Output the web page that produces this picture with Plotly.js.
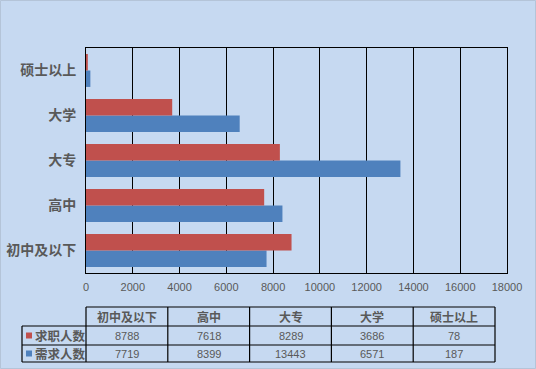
<!DOCTYPE html>
<html><head><meta charset="utf-8">
<script src="https://cdn.plot.ly/plotly-3.0.1.min.js"></script>
<style>html,body{margin:0;padding:0;background:#c6d9f1;}</style>
</head><body><div id="chart" style="width:536px;height:369px;"></div>
<script>
const categories = ['初中及以下', '高中', '大专', '大学', '硕士以上'];
const seekers = [8788, 7618, 8289, 3686, 78];      // 求职人数
const demand = [7719, 8399, 13443, 6571, 187];     // 需求人数
const seriesNames = ['求职人数', '需求人数'];
const seriesColors = ['#c0504d', '#4f81bd'];

const W = 536, H = 369;
const L = 86, R = 507, T = 48, B = 273;
const px = x => (x - L) / (R - L);
const py = y => (B - y) / (B - T);
const gray = '#595959';
const cjk = '"Noto Sans CJK SC", "Noto Sans", sans-serif';
const latin = '"Liberation Sans", Arial, sans-serif';

const traces = [
  {type: 'bar', orientation: 'h', name: seriesNames[1], y: categories, x: demand,
   marker: {color: seriesColors[1]}, hoverinfo: 'none'},
  {type: 'bar', orientation: 'h', name: seriesNames[0], y: categories, x: seekers,
   marker: {color: seriesColors[0]}, hoverinfo: 'none'}
];

// data table below the chart
const shapes = [];
const annotations = [];
const tL = 86, colW = 81.8, labL = 22;
const rows = [307, 326, 345, 362];
const tR = tL + colW * categories.length;
const line = {color: '#000', width: 1.2};
function hline(y, x0, x1) { shapes.push({type: 'line', xref: 'paper', yref: 'paper', x0: px(x0), x1: px(x1), y0: py(y), y1: py(y), line}); }
function vline(x, y0, y1) { shapes.push({type: 'line', xref: 'paper', yref: 'paper', x0: px(x), x1: px(x), y0: py(y0), y1: py(y1), line}); }
hline(rows[0], tL, tR);
hline(rows[1], labL, tR);
hline(rows[2], labL, tR);
hline(rows[3], labL, tR);
vline(labL, rows[1], rows[3]);
for (let i = 0; i <= categories.length; i++) vline(tL + colW * i, rows[0], rows[3]);

categories.forEach((c, i) => {
  const cx = px(tL + colW * (i + 0.5));
  annotations.push({xref: 'paper', yref: 'paper', x: cx, y: py((rows[0] + rows[1]) / 2), text: '<b>' + c + '</b>',
    showarrow: false, xanchor: 'center', yanchor: 'middle', font: {family: cjk, size: 12, color: gray}});
  annotations.push({xref: 'paper', yref: 'paper', x: cx, y: py((rows[1] + rows[2]) / 2), text: String(seekers[i]),
    showarrow: false, xanchor: 'center', yanchor: 'middle', font: {family: latin, size: 11, color: gray}});
  annotations.push({xref: 'paper', yref: 'paper', x: cx, y: py((rows[2] + rows[3]) / 2), text: String(demand[i]),
    showarrow: false, xanchor: 'center', yanchor: 'middle', font: {family: latin, size: 11, color: gray}});
});
[0, 1].forEach(r => {
  const cy = (rows[r + 1] + rows[r + 2]) / 2;
  shapes.push({type: 'rect', xref: 'paper', yref: 'paper', x0: px(26), x1: px(32), y0: py(cy - 3), y1: py(cy + 3),
    fillcolor: seriesColors[r], line: {width: 0}});
  annotations.push({xref: 'paper', yref: 'paper', x: px(33), y: py(cy), text: '<b>' + seriesNames[r] + '</b>',
    showarrow: false, xanchor: 'left', yanchor: 'middle', font: {family: cjk, size: 12.5, color: gray}});
});

const layout = {
  width: W, height: H,
  margin: {l: L, r: W - R, t: T, b: H - B, pad: 0},
  paper_bgcolor: '#c6d9f1', plot_bgcolor: '#c6d9f1',
  showlegend: false,
  barmode: 'group', bargap: 0.27, bargroupgap: 0,
  xaxis: {range: [0, 18000], dtick: 2000, tick0: 0, tickformat: 'd', showgrid: true, gridcolor: '#000', gridwidth: 1,
    zeroline: false, showline: true, linecolor: '#000', linewidth: 1, mirror: true,
    ticks: 'outside', ticklen: 4, tickcolor: 'rgba(0,0,0,0)',
    tickfont: {family: latin, size: 11, color: gray}, fixedrange: true},
  yaxis: {showgrid: false, zeroline: false, showline: true, linecolor: '#000', linewidth: 1, mirror: true,
    ticks: 'outside', ticklen: 6, tickcolor: 'rgba(0,0,0,0)',
    tickfont: {family: cjk, size: 14, color: gray}, fixedrange: true,
    tickvals: categories, ticktext: categories.map(c => '<b>' + c + '</b>')},
  shapes: shapes.concat([{type: 'rect', xref: 'paper', yref: 'paper', x0: px(0.5), x1: px(W - 0.5), y0: py(H - 0.5), y1: py(0.5),
    line: {color: '#b4c4d8', width: 1}, fillcolor: 'rgba(0,0,0,0)', layer: 'below'}]),
  annotations
};
Plotly.newPlot('chart', traces, layout, {displayModeBar: false, staticPlot: true});
</script></body></html>
